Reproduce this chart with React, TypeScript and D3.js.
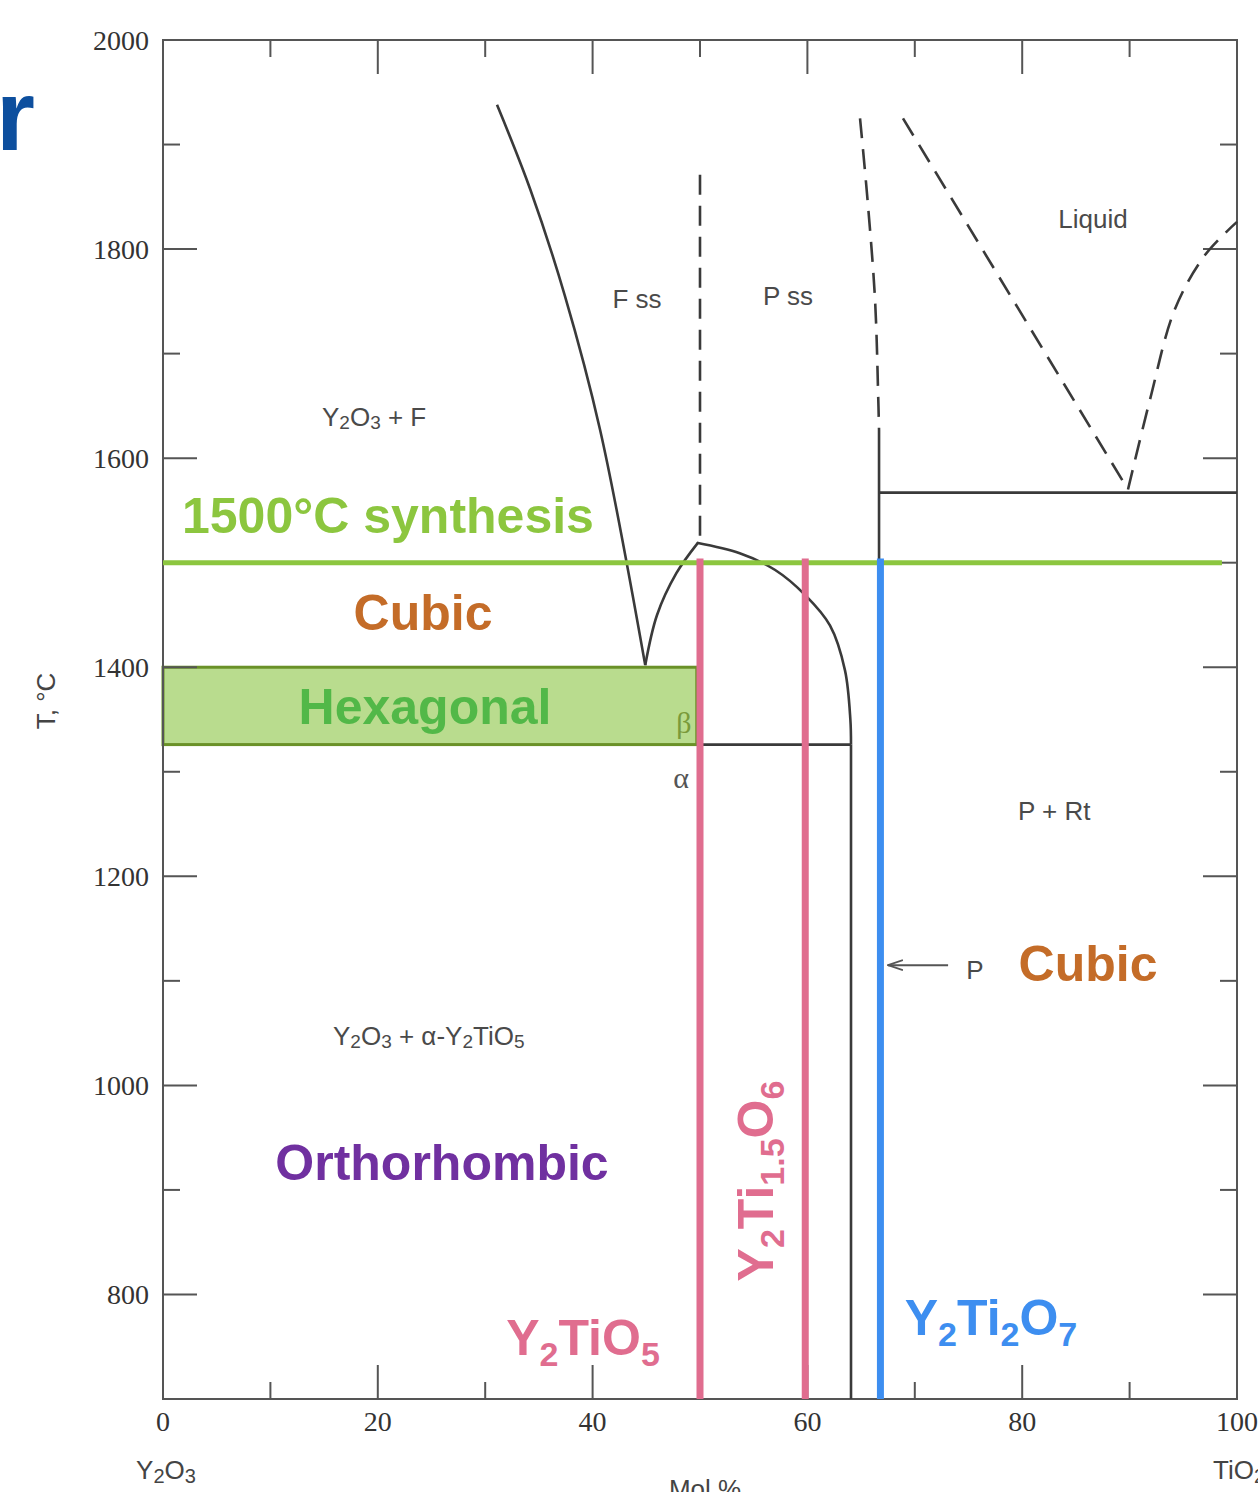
import React from 'react';
import * as d3 from 'd3';

// ---------- data ----------
const xMajorTicks = [0, 20, 40, 60, 80, 100];
const xMinorTicks = [10, 30, 50, 70, 90];
const yMajorTicks = [800, 1000, 1200, 1400, 1600, 1800, 2000];
const yMinorTicks = [900, 1100, 1300, 1500, 1700, 1900];

// phase boundaries: [mol% TiO2, T °C]
const fssLeftBoundary: [number, number][] = [[31.1, 1938], [34.2, 1857], [37.4, 1756], [40.7, 1627], [44.9, 1402]];
const eutectoidRise: [number, number][] = [[44.9, 1402], [46.0, 1450], [47.8, 1490], [49.8, 1519]];
const fssPssDashed: [number, number][] = [[50, 1871], [50, 1520]];
const pssDome: [number, number][] = [[49.7, 1519], [53.7, 1509], [57.0, 1493], [59.8, 1469], [62.1, 1440], [63.5, 1397], [64.0, 1350], [64.06, 1326]];
const pssRightSolvus: [number, number][] = [[64.06, 1326], [64.06, 700]];
const alphaBetaLine: [number, number][] = [[49.7, 1326], [64.06, 1326]];
const pyroDashed: [number, number][] = [[64.9, 1925], [65.6, 1847], [66.3, 1751], [66.6, 1656], [66.67, 1627]];
const pyroSolid: [number, number][] = [[66.67, 1627], [66.67, 700]];
const eutecticLine: [number, number][] = [[66.67, 1567], [100, 1567]];
const liquidusLeft: [number, number][] = [[68.9, 1925], [89.85, 1570]];
const liquidusRight: [number, number][] = [[89.85, 1570], [91.9, 1656], [94.2, 1742], [97.0, 1794], [100, 1826]];
const arrowPoints: [number, number][] = [[73.1, 1115], [67.5, 1115]];

const synthesisT = 1500;
const synthesisXEnd = 98.6;
const hexagonalRange = { x0: 0, x1: 49.7, t0: 1326, t1: 1400 };
const compoundLines = [
  { x: 50, color: '#e06d8f' },
  { x: 59.8, color: '#e06d8f' },
  { x: 66.8, color: '#3d8ef0' },
];
const compoundTop = 1504;

// ---------- layout ----------
const W = 1258;
const H = 1492;
const x = d3.scaleLinear().domain([0, 100]).range([163, 1237]);
const y = d3.scaleLinear().domain([700, 2000]).range([1399, 40]);

const lineGen = d3.line<[number, number]>().x(d => x(d[0])).y(d => y(d[1]));
const curveGen = d3.line<[number, number]>().x(d => x(d[0])).y(d => y(d[1])).curve(d3.curveCatmullRom.alpha(0.5));

type Part = { t: string; sub?: boolean };
function Formula({ parts, subDy, subSize }: { parts: Part[]; subDy: number; subSize: number }) {
  let prevSub = false;
  return (
    <>
      {parts.map((p, i) => {
        let dy = 0;
        if (p.sub && !prevSub) dy = subDy;
        if (!p.sub && prevSub) dy = -subDy;
        prevSub = !!p.sub;
        return (
          <tspan key={i} dy={dy} fontSize={p.sub ? subSize : undefined}>
            {p.t}
          </tspan>
        );
      })}
    </>
  );
}

const SANS = 'Liberation Sans, Arial, sans-serif';
const SERIF = 'Liberation Serif, Times New Roman, serif';
const LINE = '#3a3a3a';
const AXIS = '#555';

export default function App() {
  const x0 = x(0), x1 = x(100), yTop = y(2000), yBot = y(700);
  const longT = 34, shortT = 17;
  return (
    <svg width={W} height={H} style={{ position: 'absolute', left: 0, top: 0, background: '#fff' }}>
      <defs>
        <marker id="arr" viewBox="0 0 16 12" refX="15" refY="6" markerWidth="16" markerHeight="12" markerUnits="userSpaceOnUse" orient="auto">
          <path d="M0,1 L15,6 L0,11" fill="none" stroke="#555" strokeWidth="1.8" />
        </marker>
      </defs>

      {/* clipped title fragment */}
      <text x={-4} y={150} fontFamily={SANS} fontWeight="bold" fontSize={100} fill="#0d4f9e">r</text>

      {/* hexagonal box */}
      <rect x={x(hexagonalRange.x0)} y={y(hexagonalRange.t1)} width={x(hexagonalRange.x1) - x(hexagonalRange.x0)}
        height={y(hexagonalRange.t0) - y(hexagonalRange.t1)} fill="#b9dc8e" stroke="#6a9128" strokeWidth={3} />

      {/* frame */}
      <rect x={x0} y={yTop} width={x1 - x0} height={yBot - yTop} fill="none" stroke={AXIS} strokeWidth={2} />
      {xMajorTicks.concat(xMinorTicks).map(v => {
        const len = xMajorTicks.includes(v) ? longT : shortT;
        return (
          <g key={'xt' + v} stroke={AXIS} strokeWidth={2}>
            <line x1={x(v)} x2={x(v)} y1={yTop} y2={yTop + len} />
            <line x1={x(v)} x2={x(v)} y1={yBot} y2={yBot - len} />
          </g>
        );
      })}
      {yMajorTicks.concat(yMinorTicks).map(v => {
        const len = yMajorTicks.includes(v) ? longT : shortT;
        return (
          <g key={'yt' + v} stroke={AXIS} strokeWidth={2}>
            <line x1={x0} x2={x0 + len} y1={y(v)} y2={y(v)} />
            <line x1={x1} x2={x1 - len} y1={y(v)} y2={y(v)} />
          </g>
        );
      })}
      {xMajorTicks.map(v => (
        <text key={'xl' + v} x={x(v)} y={1431} textAnchor="middle" fontFamily={SERIF} fontSize={28} fill="#333">{v}</text>
      ))}
      {yMajorTicks.map(v => (
        <text key={'yl' + v} x={149} y={y(v) + 10} textAnchor="end" fontFamily={SERIF} fontSize={28} fill="#333">{v}</text>
      ))}
      <text transform="translate(55,701) rotate(-90)" textAnchor="middle" fontFamily={SANS} fontSize={26} fill="#444">T, °C</text>
      <text x={166} y={1479} textAnchor="middle" fontFamily={SANS} fontSize={26} fill="#444">
        <Formula parts={[{ t: 'Y' }, { t: '2', sub: true }, { t: 'O' }, { t: '3', sub: true }]} subDy={4} subSize={20} />
      </text>
      <text x={1213} y={1479} fontFamily={SANS} fontSize={26} fill="#444">
        <Formula parts={[{ t: 'TiO' }, { t: '2', sub: true }]} subDy={4} subSize={20} />
      </text>
      <text x={705} y={1498} textAnchor="middle" fontFamily={SANS} fontSize={26} fill="#444">Mol %</text>

      {/* phase boundaries */}
      <g fill="none" stroke={LINE} strokeWidth={2.6}>
        <path d={curveGen(fssLeftBoundary) || ''} />
        <path d={curveGen(eutectoidRise) || ''} />
        <path d={curveGen(pssDome) || ''} />
        <path d={lineGen(pssRightSolvus) || ''} />
        <path d={lineGen(alphaBetaLine) || ''} />
        <path d={lineGen(pyroSolid) || ''} />
        <path d={lineGen(eutecticLine) || ''} />
      </g>
      <g fill="none" stroke={LINE} strokeWidth={2.6} strokeDasharray="20 11">
        <path d={lineGen(fssPssDashed) || ''} />
        <path d={curveGen(pyroDashed) || ''} />
        <path d={lineGen(liquidusLeft) || ''} />
        <path d={curveGen(liquidusRight) || ''} />
      </g>

      {/* arrow to P */}
      <path d={lineGen(arrowPoints) || ''} stroke="#555" strokeWidth={2} fill="none" markerEnd="url(#arr)" />

      {/* small labels */}
      <g fontFamily={SANS} fontSize={26} fill="#4a4a4a">
        <text x={1093} y={228} textAnchor="middle">Liquid</text>
        <text x={637} y={308} textAnchor="middle">F ss</text>
        <text x={788} y={305} textAnchor="middle">P ss</text>
        <text x={322} y={426}>
          <Formula parts={[{ t: 'Y' }, { t: '2', sub: true }, { t: 'O' }, { t: '3', sub: true }, { t: ' + F' }]} subDy={3} subSize={19} />
        </text>
        <text x={1018} y={820}>P + Rt</text>
        <text x={333} y={1045}>
          <Formula parts={[{ t: 'Y' }, { t: '2', sub: true }, { t: 'O' }, { t: '3', sub: true }, { t: ' + α-Y' }, { t: '2', sub: true }, { t: 'TiO' }, { t: '5', sub: true }]} subDy={3} subSize={19} />
        </text>
        <text x={975} y={979} textAnchor="middle">P</text>
      </g>
      <text x={684} y={733} textAnchor="middle" fontFamily={SERIF} fontSize={30} fill="#7a9a3a">β</text>
      <text x={681} y={788} textAnchor="middle" fontFamily={SERIF} fontSize={30} fill="#555">α</text>

      {/* synthesis line and compound lines */}
      <line x1={x(0)} x2={x(synthesisXEnd)} y1={y(synthesisT)} y2={y(synthesisT)} stroke="#8cc63f" strokeWidth={5} />
      {compoundLines.map(c => (
        <line key={c.x} x1={x(c.x)} x2={x(c.x)} y1={y(compoundTop)} y2={y(700)} stroke={c.color} strokeWidth={7} />
      ))}

      {/* big labels */}
      <g fontFamily={SANS} fontWeight="bold" fontSize={50}>
        <text x={182} y={533} fill="#8cc63f">1500°C synthesis</text>
        <text x={423} y={630} textAnchor="middle" fill="#c46c28">Cubic</text>
        <text x={425} y={724} textAnchor="middle" fill="#52b848">Hexagonal</text>
        <text x={442} y={1180} textAnchor="middle" fill="#7030a0">Orthorhombic</text>
        <text x={1088} y={981} textAnchor="middle" fill="#c46c28">Cubic</text>
        <text x={583} y={1355} textAnchor="middle" fill="#e06d8f">
          <Formula parts={[{ t: 'Y' }, { t: '2', sub: true }, { t: 'TiO' }, { t: '5', sub: true }]} subDy={11} subSize={34} />
        </text>
        <text x={991} y={1335} textAnchor="middle" fill="#3d8ef0">
          <Formula parts={[{ t: 'Y' }, { t: '2', sub: true }, { t: 'Ti' }, { t: '2', sub: true }, { t: 'O' }, { t: '7', sub: true }]} subDy={11} subSize={34} />
        </text>
        <text transform="translate(773,1181) rotate(-90)" textAnchor="middle" fill="#e06d8f">
          <Formula parts={[{ t: 'Y' }, { t: '2', sub: true }, { t: 'Ti' }, { t: '1.5', sub: true }, { t: 'O' }, { t: '6', sub: true }]} subDy={11} subSize={34} />
        </text>
      </g>
    </svg>
  );
}
